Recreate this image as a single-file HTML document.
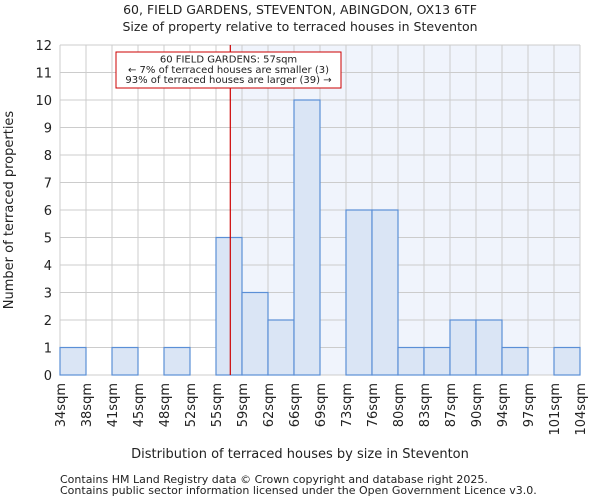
<!DOCTYPE html>
<html><head><meta charset="utf-8"><style>
body{margin:0;background:#fff;font-family:"DejaVu Sans","Liberation Sans",sans-serif;}
svg text{font-family:"DejaVu Sans","Liberation Sans",sans-serif;fill:#222;}
</style></head><body>
<svg id="c" width="600" height="500" xmlns="http://www.w3.org/2000/svg">
<text x="300" y="14" text-anchor="middle" font-size="12.5">60, FIELD GARDENS, STEVENTON, ABINGDON, OX13 6TF</text>
<text x="300" y="31" text-anchor="middle" font-size="12.5">Size of property relative to terraced houses in Steventon</text>
<g id="plot"></g>
<text x="300" y="458" text-anchor="middle" font-size="13">Distribution of terraced houses by size in Steventon</text>
<text transform="translate(13,210) rotate(-90)" text-anchor="middle" font-size="13">Number of terraced properties</text>
<text x="60" y="483" font-size="11">Contains HM Land Registry data © Crown copyright and database right 2025.</text>
<text x="60" y="494" font-size="11">Contains public sector information licensed under the Open Government Licence v3.0.</text>
</svg>
<script>
const edgeLabels=["34sqm","38sqm","41sqm","45sqm","48sqm","52sqm","55sqm","59sqm","62sqm","66sqm","69sqm","73sqm","76sqm","80sqm","83sqm","87sqm","90sqm","94sqm","97sqm","101sqm","104sqm"];
const counts=[1,0,1,0,1,0,5,3,2,10,0,6,6,1,1,2,2,1,0,1];
const yTicks=[0,1,2,3,4,5,6,7,8,9,10,11,12];
const markerBin=6.55;
const NS="http://www.w3.org/2000/svg";
const g=document.getElementById('plot');
const X0=60,X1=580,Y0=375,Y1=45,yMax=12;
const bw=(X1-X0)/counts.length;
const xs=i=>X0+i*bw;
const ys=v=>Y0-(Y0-Y1)*v/yMax;
function mk(t,a){const e=document.createElementNS(NS,t);for(const k in a)e.setAttribute(k,a[k]);g.appendChild(e);return e;}
const mx=xs(markerBin);
let e=mk('rect',{x:mx,y:Y1,width:X1-mx,height:Y0-Y1,fill:'#f0f4fc'});


yTicks.forEach(v=>{
 let l=mk('line',{x1:X0,x2:X1,y1:ys(v),y2:ys(v),stroke:'#ccc','stroke-width':1});
 
 
 let t=mk('text',{x:X0-8,y:ys(v)+5,'text-anchor':'end','font-size':13});t.textContent=v;
 
 
});
edgeLabels.forEach((s,i)=>{
 let l=mk('line',{x1:xs(i),x2:xs(i),y1:Y1,y2:Y0,stroke:'#ccc','stroke-width':1});
 
 
 let t=mk('text',{transform:`translate(${xs(i)+5},${Y0+8}) rotate(-90)`,'text-anchor':'end','font-size':13});t.textContent=s;
 
 
});
counts.forEach((c,i)=>{
 if(!c)return;
 let r=mk('rect',{x:xs(i),y:ys(c),width:bw,height:Y0-ys(c),fill:'#dae5f5',stroke:'#5b8fd6','stroke-width':1.2});
 
 
});
let ln=mk('line',{x1:mx,x2:mx,y1:Y1,y2:Y0,stroke:'#cc0000','stroke-width':1.2});


let bx=mk('rect',{x:116,y:52,width:225,height:36,fill:'#fff',stroke:'#cc0000','stroke-width':1});


["60 FIELD GARDENS: 57sqm","← 7% of terraced houses are smaller (3)","93% of terraced houses are larger (39) →"].forEach((s,i)=>{
 let t=mk('text',{x:228.5,y:62.5+i*10.3,'text-anchor':'middle','font-size':10});t.textContent=s;
 
 
});
</script>
</body></html>
